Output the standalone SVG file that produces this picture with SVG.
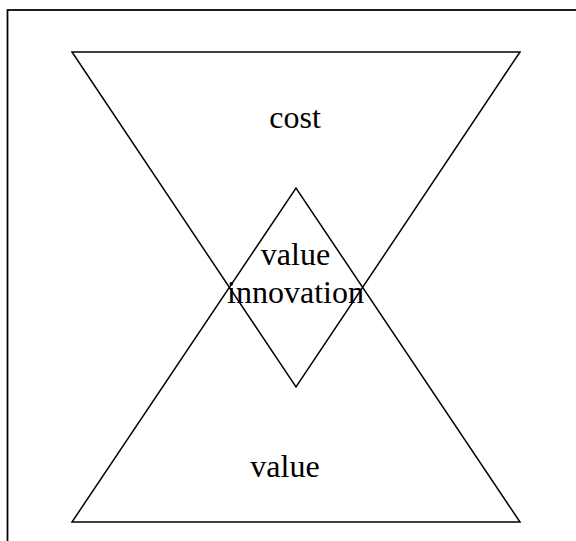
<svg xmlns="http://www.w3.org/2000/svg" width="576" height="541" viewBox="0 0 576 541">
<style>
.shape{fill:none;stroke:#000;stroke-width:1.5;stroke-linejoin:miter}
.frame{fill:none;stroke:#000;stroke-width:1.75}
.lbl{font-family:"Liberation Serif","Times New Roman",serif;font-size:32px;fill:#000;text-anchor:middle}
</style>
<rect width="576" height="541" fill="#fff"/>
<rect class="frame" x="7.5" y="10" width="620" height="600"/>
<g id="cost">
<polygon class="shape" points="72,52 520,52 296,387"/>
<text class="lbl" x="295" y="128">cost</text>
</g>
<g id="value">
<polygon class="shape" points="72,522 520,522 296,188"/>
<text class="lbl" x="285" y="477">value</text>
</g>
<g id="value-innovation">
<text class="lbl" x="295.5" y="265">value</text>
<text class="lbl" x="295.5" y="303">innovation</text>
</g>
<g id="connectors"></g>
</svg>
